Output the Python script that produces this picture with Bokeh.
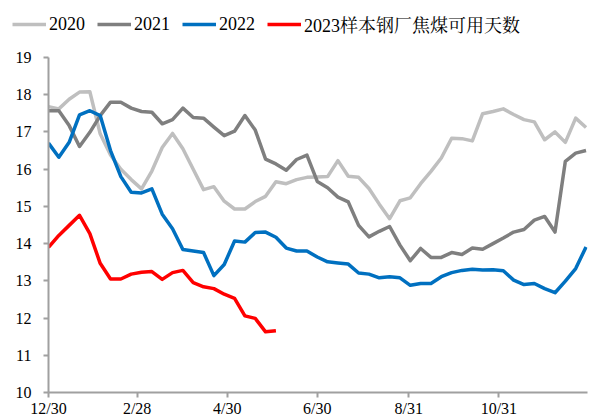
from bokeh.plotting import figure
from bokeh.models import Range1d, FixedTicker, Legend, LegendItem
from bokeh.embed import file_html
from bokeh.resources import INLINE

# ---- data (weekly, starting 12/30) ----
weeks = list(range(53))

y2020 = [17.68, 17.62, 17.88, 18.07, 18.08, 16.95, 16.38, 16.00, 15.72, 15.47,
         15.95, 16.58, 16.96, 16.55, 16.00, 15.45, 15.53, 15.14, 14.93, 14.93,
         15.13, 15.27, 15.66, 15.61, 15.72, 15.78, 15.79, 15.80, 16.23, 15.81,
         15.78, 15.48, 15.06, 14.67, 15.15, 15.23, 15.61, 15.94, 16.30, 16.83,
         16.82, 16.76, 17.49, 17.55, 17.62, 17.47, 17.33, 17.27, 16.79, 17.00,
         16.72, 17.37, 17.12]

y2021 = [17.57, 17.57, 17.17, 16.61, 16.99, 17.44, 17.80, 17.80, 17.64, 17.55,
         17.53, 17.22, 17.33, 17.64, 17.39, 17.37, 17.13, 16.90, 17.02, 17.44,
         17.05, 16.27, 16.14, 15.97, 16.26, 16.38, 15.67, 15.50, 15.25, 15.12,
         14.49, 14.18, 14.33, 14.46, 13.96, 13.54, 13.87, 13.63, 13.63, 13.76,
         13.71, 13.88, 13.85, 14.00, 14.15, 14.31, 14.38, 14.63, 14.73, 14.31,
         16.21, 16.43, 16.50]

y2022 = [16.70, 16.32, 16.72, 17.46, 17.57, 17.44, 16.50, 15.80, 15.38, 15.36,
         15.47, 14.79, 14.40, 13.84, 13.80, 13.76, 13.14, 13.44, 14.07, 14.04,
         14.30, 14.31, 14.17, 13.88, 13.80, 13.80, 13.64, 13.51, 13.48, 13.45,
         13.21, 13.18, 13.08, 13.11, 13.08, 12.88, 12.93, 12.93, 13.11, 13.22,
         13.28, 13.31, 13.29, 13.30, 13.27, 13.02, 12.90, 12.93, 12.79, 12.68,
         12.99, 13.33, 13.91]

y2023 = [13.90, 14.22, 14.49, 14.76, 14.27, 13.47, 13.05, 13.05, 13.18, 13.23,
         13.25, 13.04, 13.22, 13.28, 12.95, 12.84, 12.79, 12.64, 12.53, 12.06,
         11.99, 11.63, 11.66]

series_names = ["2020", "2021", "2022", "2023样本钢厂焦煤可用天数"]
series_colors = ["#BFBFBF", "#7F7F7F", "#0070C0", "#FF0000"]

tick_days = [0, 60, 121, 182, 244, 305]
tick_labels = ["12/30", "2/28", "4/30", "6/30", "8/31", "10/31"]
y_ticks = list(range(10, 20))

days = [7 * w for w in weeks]
all_y = [y2020, y2021, y2022, y2023]

FONT = "Liberation Serif, Noto Serif CJK SC, Noto Sans CJK SC"
LINE_W = 3.5

# ---- legend strip (separate small figure on top; its lines lie outside its ranges) ----
leg = figure(width=609, height=40, output_backend="svg", toolbar_location=None,
             x_axis_type=None, y_axis_type=None, min_border=0,
             x_range=Range1d(0, 1), y_range=Range1d(0, 1))
leg.outline_line_color = None
leg.xgrid.visible = False
leg.ygrid.visible = False
leg_renderers = [leg.line(days[:len(ys)], ys, line_color=c, line_width=LINE_W)
                 for ys, c in zip(all_y, series_colors)]
legend = Legend(items=[LegendItem(label=n, renderers=[r]) for n, r in zip(series_names, leg_renderers)],
                orientation="horizontal", location=(12, 3),
                glyph_width=34, glyph_height=20, label_standoff=3, spacing=12,
                padding=0, margin=0, label_text_font=FONT, label_text_font_size="18px",
                label_text_color="#000000", background_fill_alpha=0, border_line_alpha=0)
leg.add_layout(legend, "center")

# ---- main chart ----
p = figure(width=609, height=379, output_backend="svg", toolbar_location=None,
           x_range=Range1d(0, 365), y_range=Range1d(10, 19),
           min_border_left=48, min_border_right=22, min_border_top=17,
           min_border_bottom=26)
p.outline_line_color = None
p.xgrid.visible = False
p.ygrid.visible = False

for ys, c in zip(all_y, series_colors):
    p.line(days[:len(ys)], ys, line_color=c, line_width=LINE_W, line_join="round")

for ax in (p.xaxis, p.yaxis):
    ax.axis_line_color = "#A0A0A0"
    ax.axis_line_width = 2
    ax.major_tick_line_color = "#A0A0A0"
    ax.major_tick_line_width = 2
    ax.major_tick_out = 5
    ax.major_tick_in = 0
    ax.minor_tick_out = 0
    ax.minor_tick_in = 0
    ax.major_label_text_font = FONT
    ax.major_label_text_font_size = "16px"
    ax.major_label_text_color = "#000000"

p.yaxis.ticker = FixedTicker(ticks=y_ticks)
p.yaxis.major_label_standoff = 12
p.xaxis.ticker = FixedTicker(ticks=tick_days)
p.xaxis.major_label_overrides = {d: l for d, l in zip(tick_days, tick_labels)}
p.xaxis.major_label_standoff = 2

open("out.html", "w").write(file_html([leg, p], INLINE))
